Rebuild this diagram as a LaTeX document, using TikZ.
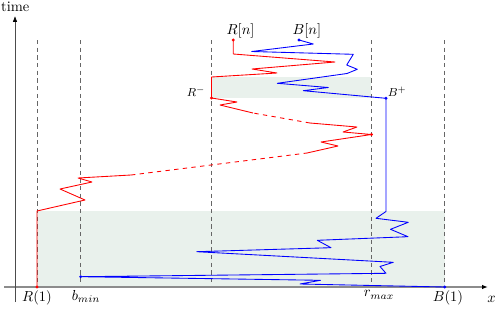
\documentclass[tikz,border=0pt]{standalone}
\usepackage{amsmath,amssymb}
\usepackage{tikz}
\usetikzlibrary{arrows.meta,positioning}
\definecolor{bandfill}{RGB}{233,241,236}

\begin{document}
\begin{tikzpicture}
          [x=0.69pt,y=-0.69pt,semithick]
          \tikzstyle{guide}=[draw=black!60,thin,dash pattern=on 3pt off 2.3pt]
          \tikzstyle{walkR}=[draw=red,line width=0.6pt,line join=round]
          \tikzstyle{walkB}=[draw=blue,line width=0.6pt,line join=round]
          \tikzstyle{lab}=[inner sep=1pt]
          \tikzstyle{axislab}=[inner sep=2.2pt]
          \tikzstyle{smalllab}=[inner sep=1pt,font=\footnotesize]

          \useasboundingbox (0,0) rectangle (498,311);

          \fill[bandfill] (37,211) rectangle (444.7,287);
          \fill[bandfill] (211.5,77) rectangle (371.3,98);

          \foreach \gx in {37,80.7,211.5,371.3,444.7}
            \draw[guide] (\gx,40) -- (\gx,287);

          \draw[black!45,line width=0.9pt,-{Latex[black,length=4pt,width=3pt]}] (4,287) -- (488,287);
          \draw[black!70,thin,-{Latex[black,length=4pt,width=3pt]}] (15,302) -- (15,16);
          \node (tlab) at (15.3,7) {time};
          \node (xlab) at (491.5,299) {$x$};

          \coordinate (R1) at (37,287);
          \coordinate (Rmid) at (371.5,134.5);
          \coordinate (Rminus) at (211.5,98);
          \coordinate (Rn) at (233.3,40);
          \coordinate (B1) at (444.7,287);
          \coordinate (bmin) at (80.7,276.7);
          \coordinate (Bplus) at (386,98.3);
          \coordinate (Bn) at (299,40);

          \draw[walkR] (R1) -- (37,211) -- (85,200) -- (60,189) -- (92,182) -- (78,178) -- (131,175);
          \draw[walkR,dashed] (131,175) -- (307,153);
          \draw[walkR] (307,153) -- (338,146) -- (321,142) -- (Rmid) -- (343,132) -- (357,127) -- (310,123);
          \draw[walkR,dashed] (310,123) -- (253,113);
          \draw[walkR] (253,113) -- (220,105) -- (237,102) -- (Rminus) -- (211.5,77) -- (277,73)
            -- (252,69) -- (335,62) -- (233.3,54) -- (Rn);

          \draw[walkB] (B1) -- (300,284) -- (320.5,280.3) -- (bmin) -- (386,273.3) -- (380,266.5)
            -- (393.3,262.3) -- (196.7,251.7) -- (331,247.7) -- (317.3,240.3) -- (408,236.7)
            -- (390.5,229.3) -- (408.3,222.3) -- (376,218.3) -- (386,211.5) -- (Bplus)
            -- (303.3,90.7) -- (328.3,87.5) -- (277.3,83.3) -- (347,73.5) -- (357.3,69.3)
            -- (346.7,65) -- (353.3,54.3) -- (251.7,51.5) -- (313.3,44) -- (Bn);

          \foreach \p in {R1,Rmid,Rminus,Rn}
            \fill[red] (\p) circle (1.1pt);
          \foreach \p in {B1,bmin,Bplus,Bn}
            \fill[blue] (\p) circle (1.1pt);

          \node[lab] (Rnlab) [above=0pt of Rn, xshift=5pt] {$R[n]$};
          \node[lab] (Bnlab) [above=0pt of Bn, xshift=5.5pt] {$B[n]$};
          \node[smalllab] (Rminuslab) [above left=0pt and 3pt of Rminus] {$R^{-}$};
          \node[smalllab] (Bpluslab) [above right=0pt of Bplus] {$B^{+}$};

          \node[axislab,below] (R1lab) at (37,287) {$R(1)$};
          \node[axislab,below] (bminlab) at (86,287) {$b_{min}$};
          \node[axislab,below] (rmaxlab) at (379,287) {$r_{max}$};
          \node[axislab,below] (B1lab) at (448,287) {$B(1)$};
        \end{tikzpicture}
\end{document}
